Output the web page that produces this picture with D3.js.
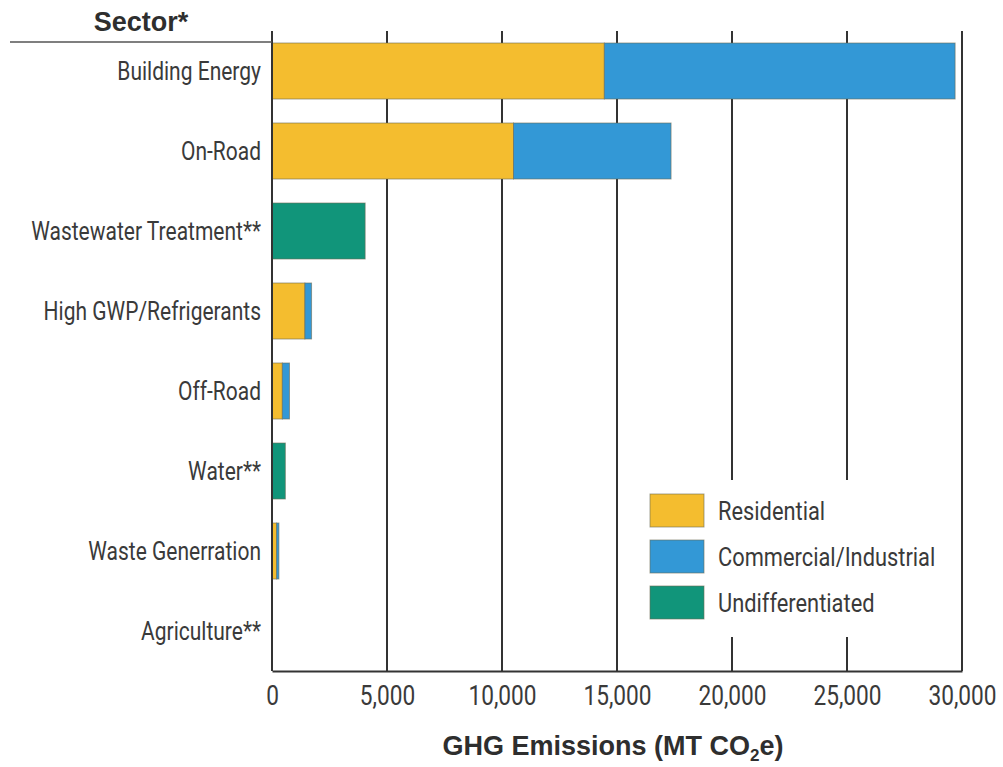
<!DOCTYPE html>
<html>
<head>
<meta charset="utf-8">
<script src="https://cdn.jsdelivr.net/npm/d3@7"></script>
<style>
  body { margin: 0; background: #fff; }
  text { font-family: Roboto, "Open Sans", sans-serif; fill: #3a3a3a; }
  .bold { font-family: "Liberation Sans", "Open Sans", sans-serif; font-weight: bold; fill: #2e2e2e; }
</style>
</head>
<body>
<script>
// sectors, top to bottom
const sectors = ["Building Energy", "On-Road", "Wastewater Treatment**", "High GWP/Refrigerants",
  "Off-Road", "Water**", "Waste Generration", "Agriculture**"];

// MT CO2e
const residential      = [14450, 10500, 0, 1430, 450, 0, 200, 0];
const commercial       = [15250, 6850, 0, 290, 310, 0, 100, 0];
const undifferentiated = [0, 0, 4050, 0, 0, 580, 0, 15];

const seriesNames = ["Residential", "Commercial/Industrial", "Undifferentiated"];
const seriesColors = ["#f4bd2f", "#3398d6", "#11957a"];
const xTicks = [0, 5000, 10000, 15000, 20000, 25000, 30000];

const width = 1003;
const height = 767;
const narrow = "scale(0.84,1)"; // no condensed font installed, squeeze instead

const svg = d3.select("body")
  .append("svg")
  .attr("width", width)
  .attr("height", height);

const rows = sectors.map((s, i) => ({
  sector: s,
  Residential: residential[i],
  "Commercial/Industrial": commercial[i],
  Undifferentiated: undifferentiated[i]
}));

const stacked = d3.stack().keys(seriesNames)(rows);

const xScale = d3.scaleLinear()
  .domain([0, 30000])
  .range([272, 962]);

const yScale = d3.scaleBand()
  .domain(sectors)
  .range([31, 671])
  .paddingInner(0.3)
  .paddingOuter(0.15);

const color = d3.scaleOrdinal().domain(seriesNames).range(seriesColors);

const yTop = 31, yBottom = 671;

// vertical gridlines
svg.append("g")
  .selectAll("line")
  .data(xTicks.slice(1))
  .enter()
  .append("line")
  .attr("x1", d => xScale(d))
  .attr("x2", d => xScale(d))
  .attr("y1", yTop)
  .attr("y2", yBottom)
  .attr("stroke", "#333")
  .attr("stroke-width", 2);

// bars
svg.append("g")
  .selectAll("g")
  .data(stacked)
  .enter()
  .append("g")
  .attr("fill", d => color(d.key))
  .selectAll("rect")
  .data(d => d.filter(p => p[1] - p[0] > 0))
  .enter()
  .append("rect")
  .attr("x", d => xScale(d[0]))
  .attr("y", d => yScale(d.data.sector))
  .attr("width", d => xScale(d[1]) - xScale(d[0]))
  .attr("height", yScale.bandwidth())
  .attr("stroke", "#6a6a55")
  .attr("stroke-opacity", 0.6)
  .attr("stroke-width", 1);

// legend box (white, covers gridlines)
const legend = svg.append("g");
legend.append("rect")
  .attr("x", 626)
  .attr("y", 480)
  .attr("width", 328)
  .attr("height", 157)
  .attr("fill", "#fff");

seriesNames.forEach((name, i) => {
  const y = 494 + i * 46;
  legend.append("rect")
    .attr("x", 650)
    .attr("y", y)
    .attr("width", 54)
    .attr("height", 33)
    .attr("fill", color(name))
    .attr("stroke", "#6a6a55")
    .attr("stroke-opacity", 0.6);
  legend.append("text")
    .attr("transform", `translate(718,${y + 26}) ${narrow}`)
    .style("font-size", "26px")
    .text(name);
});

// left axis line and header rule
svg.append("line")
  .attr("x1", xScale(0)).attr("x2", xScale(0))
  .attr("y1", yTop).attr("y2", yBottom)
  .attr("stroke", "#333").attr("stroke-width", 2);

svg.append("line")
  .attr("x1", 10).attr("x2", xScale(0))
  .attr("y1", 42).attr("y2", 42)
  .attr("stroke", "#555").attr("stroke-width", 1.5);

// bottom axis
const xAxis = d3.axisBottom(xScale)
  .tickValues(xTicks)
  .tickSize(0)
  .tickPadding(15)
  .tickFormat(d3.format(","));

const gx = svg.append("g")
  .attr("transform", `translate(0, ${yBottom})`)
  .call(xAxis);
gx.select(".domain").attr("stroke", "#333").attr("stroke-width", 2);
gx.selectAll("text")
  .style("font-size", "27px")
  .style("font-family", null)
  .attr("fill", "#3a3a3a")
  .attr("transform", narrow);

// sector labels
svg.append("g")
  .selectAll("text")
  .data(sectors)
  .enter()
  .append("text")
  .attr("transform", d => `translate(261,${yScale(d) + yScale.bandwidth() / 2 + 9}) ${narrow}`)
  .attr("text-anchor", "end")
  .style("font-size", "25px")
  .text(d => d);

// titles
svg.append("text")
  .attr("class", "bold")
  .attr("x", 141)
  .attr("y", 31)
  .attr("text-anchor", "middle")
  .style("font-size", "27px")
  .text("Sector*");

const xt = svg.append("text")
  .attr("class", "bold")
  .attr("x", 613)
  .attr("y", 755)
  .attr("text-anchor", "middle")
  .style("font-size", "27px");
xt.append("tspan").text("GHG Emissions (MT CO");
xt.append("tspan").attr("dy", 6).style("font-size", "17px").text("2");
xt.append("tspan").attr("dy", -6).text("e)");
</script>
</body>
</html>
